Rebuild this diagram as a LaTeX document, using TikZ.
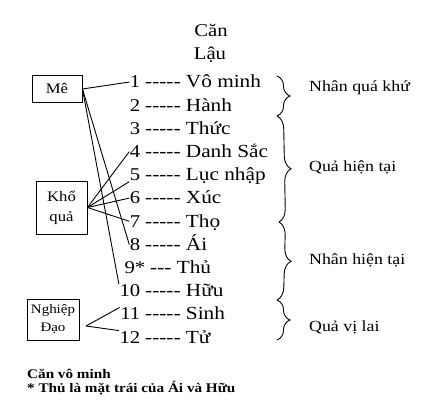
\documentclass[tikz,border=0pt]{standalone}
\usepackage{fontspec}
\setmainfont{Liberation Serif}[FakeStretch=1.15, Ligatures=TeXOff]
\usetikzlibrary{decorations.pathreplacing}
\begin{document}
\begin{tikzpicture}[x=1pt,y=-1pt,
  num/.style={font=\fontsize{18}{20}\selectfont, inner sep=0.5pt, anchor=base east},
  row/.style={font=\fontsize{18.5}{20}\selectfont, inner sep=0pt, anchor=base west},
  ttl/.style={font=\fontsize{18}{20}\selectfont, inner sep=0pt, anchor=base},
  lab/.style={font=\fontsize{15.5}{18}\selectfont, inner sep=0pt, anchor=base west},
  foot/.style={font=\fontsize{13.2}{14}\selectfont\bfseries, inner sep=0pt, anchor=base west},
  box/.style={draw, line width=0.9pt, align=center, inner sep=0pt},
  conn/.style={line width=0.9pt},
  br/.style={decorate, decoration={brace, amplitude=13pt}, line width=0.9pt}]
\useasboundingbox (0,0) rectangle (424,414);

% title
\node[ttl] (t1) at (211,37) {Căn};
\node[ttl] (t2) at (210,60) {Lậu};

% rows
\node[num] (n1) at (141,88) {1};
\node[row] (r1) at (145,88) {----- Vô minh};
\node[num] (n2) at (141,111.2) {2};
\node[row] (r2) at (145,111.2) {----- Hành};
\node[num] (n3) at (141,134.4) {3};
\node[row] (r3) at (145,134.4) {----- Thức};
\node[num] (n4) at (141,157.6) {4};
\node[row] (r4) at (145,157.6) {----- Danh Sắc};
\node[num] (n5) at (141,180.8) {5};
\node[row] (r5) at (145,180.8) {----- Lục nhập};
\node[num] (n6) at (141,204) {6};
\node[row] (r6) at (145,204) {----- Xúc};
\node[num] (n7) at (141,227.2) {7};
\node[row] (r7) at (145,227.2) {----- Thọ};
\node[num] (n8) at (141,250.4) {8};
\node[row] (r8) at (145,250.4) {----- Ái};
\node[num] (n9) at (146,273.6) {9*};
\node[row] (r9) at (150,273.6) {--- Thủ};
\node[num] (n10) at (141,296.8) {10};
\node[row] (r10) at (145,296.8) {----- Hữu};
\node[num] (n11) at (141,320) {11};
\node[row] (r11) at (145,320) {----- Sinh};
\node[num] (n12) at (141,343.2) {12};
\node[row] (r12) at (145,343.2) {----- Tử};

% boxes
\node[box, minimum width=50pt, minimum height=27pt, font=\fontsize{14.5}{16}\selectfont] (me) at (57,89) {Mê};
\node[box, minimum width=51pt, minimum height=53pt, font=\fontsize{14.5}{20}\selectfont] (kq) at (61.5,207.5) {Khổ\\quả};
\node[box, minimum width=52pt, minimum height=41pt, font=\fontsize{13}{18}\selectfont] (nd) at (53,319.5) {Nghiệp\\Đạo};
\coordinate (ndtip) at (86,326);

% connectors
\draw[conn] (me.east) -- (n1.west);
\draw[conn] (me.east) -- (n8.west);
\draw[conn] (me.east) -- (n10.north west);
\draw[conn] (kq.east) -- (n4.west);
\draw[conn] (kq.east) -- (n5.south west);
\draw[conn] (kq.east) -- (n6.west);
\draw[conn] (kq.east) -- (n7.west);
\draw[conn] (ndtip) -- (n11.north west);
\draw[conn] (ndtip) -- (n12.north west);

% braces
\coordinate (b0) at (277,76);
\coordinate (b1) at (277,116);
\coordinate (b2) at (279,222);
\coordinate (b3) at (277,300);
\coordinate (b4) at (277,340);
\draw[br] (b0) -- (b1);
\draw[br] (b1) -- (b2);
\draw[br] (b2) -- (b3);
\draw[br] (b3) -- (b4);

\node[lab] (l1) at (309,92) {Nhân quá khứ};
\node[lab] (l2) at (309,172) {Quả hiện tại};
\node[lab] (l3) at (309,265) {Nhân hiện tại};
\node[lab] (l4) at (309,332) {Quả vị lai};

% footer
\node[foot] (f1) at (27,379) {Căn vô minh};
\node[foot] (f2) at (27,393) {* Thủ là mặt trái của Ái và Hữu};
\end{tikzpicture}
\end{document}
